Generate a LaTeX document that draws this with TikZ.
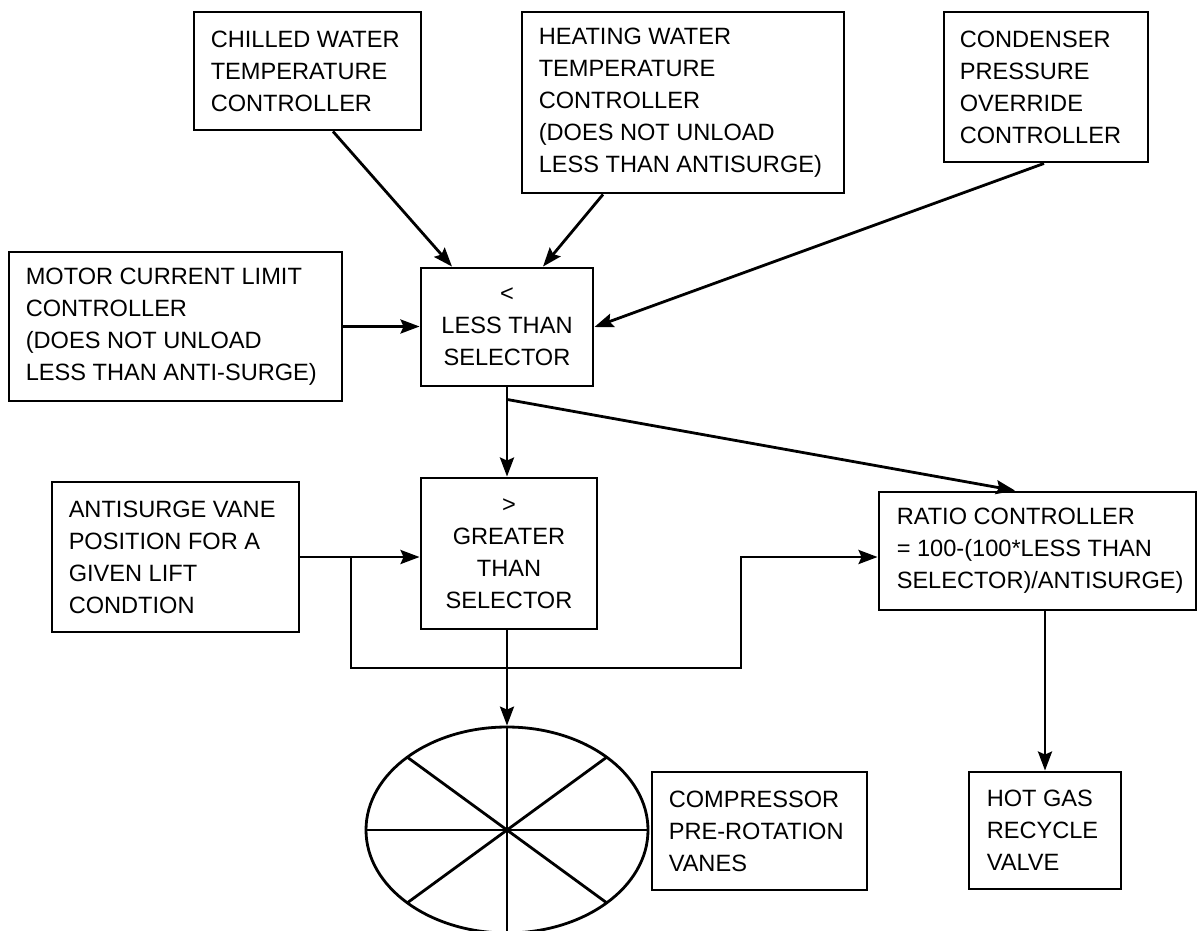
\documentclass[tikz,border=0pt]{standalone}
\usepackage{fontspec}
\setmainfont{Liberation Sans}
\usetikzlibrary{arrows.meta, shapes.geometric, calc}
\begin{document}
\begin{tikzpicture}[x=1pt, y=-1pt,
  box/.style={draw, line width=2.9pt, rectangle, inner sep=0pt},
  txt/.style={anchor=west, inner sep=0pt, align=left, font=\fontsize{23.6}{32}\selectfont},
  ctxt/.style={inner sep=0pt, align=center, font=\fontsize{23.6}{32}\selectfont},
  conn/.style={line width=2.8pt},
  arr/.style={conn, -{Stealth[length=19pt, width=14pt, inset=3pt]}}]
\useasboundingbox (0,0) rectangle (1198,930);

% boxes
\node[box, minimum width=227pt, minimum height=118pt] (chw) at (307.5,71) {};
\node[txt] (chwt) at ([xshift=18pt]chw.west) {CHILLED WATER\\TEMPERATURE\\CONTROLLER};

\node[box, minimum width=322pt, minimum height=181pt] (hw) at (683,102.5) {};
\node[txt] (hwt) at ([xshift=18pt]hw.west) {HEATING WATER\\TEMPERATURE\\CONTROLLER\\(DOES NOT UNLOAD\\LESS THAN ANTISURGE)};

\node[box, minimum width=204pt, minimum height=150pt] (cond) at (1046,87) {};
\node[txt] (condt) at ([xshift=17pt]cond.west) {CONDENSER\\PRESSURE\\OVERRIDE\\CONTROLLER};

\node[box, minimum width=333pt, minimum height=149pt] (motor) at (175.5,326.5) {};
\node[txt] (motort) at ([xshift=18pt]motor.west) {MOTOR CURRENT LIMIT\\CONTROLLER\\(DOES NOT UNLOAD\\LESS THAN ANTI-SURGE)};

\node[box, minimum width=172pt, minimum height=118pt] (lt) at (507,327) {};
\node[ctxt] (ltt) at (lt.center) {<\\LESS THAN\\SELECTOR};

\node[box, minimum width=247pt, minimum height=150pt] (anti) at (175.5,557) {};
\node[txt] (antit) at ([xshift=18pt]anti.west) {ANTISURGE VANE\\POSITION FOR A\\GIVEN LIFT\\CONDTION};

\node[box, minimum width=176pt, minimum height=151pt] (gt) at (509,553.5) {};
\node[ctxt] (gtt) at (gt.center) {>\\GREATER\\THAN\\SELECTOR};

\node[box, minimum width=317pt, minimum height=118pt] (ratio) at (1037.5,551) {};
\node[txt] (ratiot) at ([xshift=19pt]ratio.west) {RATIO CONTROLLER\\= 100-(100*LESS THAN\\SELECTOR)/ANTISURGE)};

\node[box, minimum width=215pt, minimum height=118pt] (comp) at (759.5,831) {};
\node[txt] (compt) at ([xshift=18pt]comp.west) {COMPRESSOR\\PRE-ROTATION\\VANES};

\node[box, minimum width=152pt, minimum height=117pt] (hot) at (1045,830.5) {};
\node[txt] (hott) at ([xshift=19pt]hot.west) {HOT GAS\\RECYCLE\\VALVE};

% vanes ellipse
\node[ellipse, draw, line width=2.8pt, minimum width=282pt, minimum height=206pt, inner sep=0pt] (ell) at (507,830) {};
\draw[conn] (ell.north) -- (ell.south);
\draw[conn] (ell.west) -- (ell.east);
\draw[conn] ($(ell.center)+(-99.7,-72.8)$) -- ($(ell.center)+(99.7,72.8)$);
\draw[conn] ($(ell.center)+(99.7,-72.8)$) -- ($(ell.center)+(-99.7,72.8)$);

% connectors
\draw[arr] ([xshift=25.5pt]chw.south) -- ([xshift=-55pt]lt.north);
\draw[arr] ([xshift=-80pt]hw.south) -- ([xshift=36pt]lt.north);
\draw[arr] ([xshift=-2pt]cond.south) -- (lt.east);
\draw[arr] (motor.east) -- (motor.east -| lt.west);
\draw[arr] (lt.south) -- (lt.south |- gt.north);
\coordinate (br) at ($(lt.south)+(0,12)$);
\draw[arr] (br) -- ([xshift=-22.5pt]ratio.north);
\draw[arr] (anti.east) -- (anti.east -| gt.west);
\coordinate (j) at (351,557);
\coordinate (lp) at (741,668);
\draw[arr] (j) -- (j |- lp) -- (lp) -- (lp |- j) -- (j -| ratio.west);
\draw[arr] (ell.north |- gt.south) -- (ell.north);
\draw[arr] (hot.north |- ratio.south) -- (hot.north);
\end{tikzpicture}
\end{document}
